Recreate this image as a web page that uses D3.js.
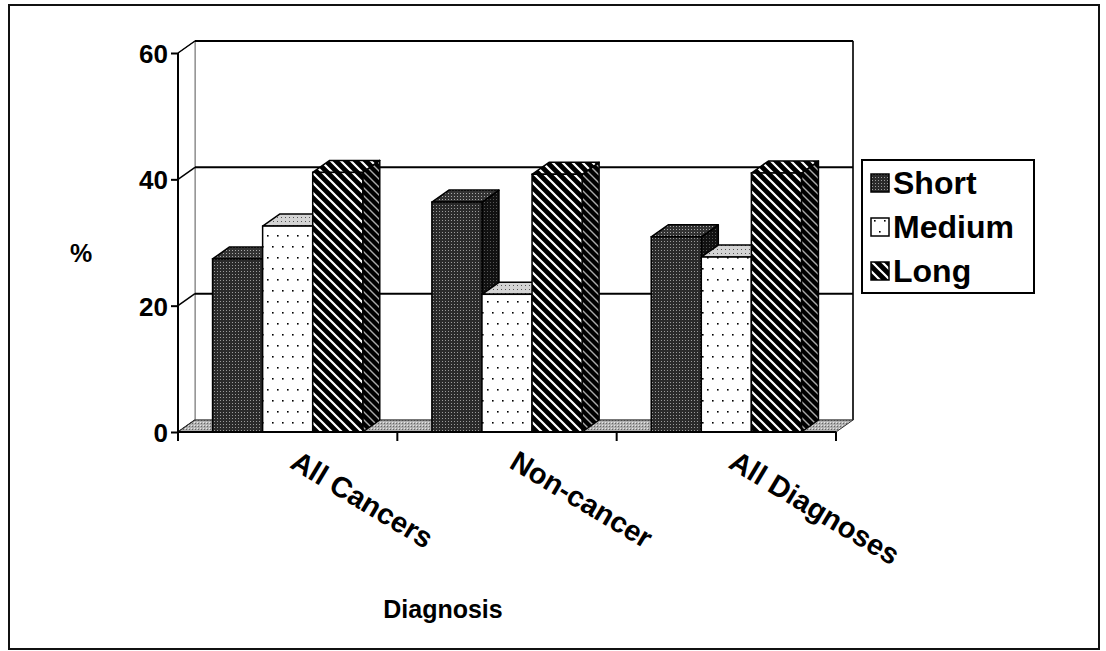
<!DOCTYPE html>
<html>
<head>
<meta charset="utf-8">
<script src="https://cdn.jsdelivr.net/npm/d3@7"></script>
<style>
	body { margin: 0; background: #fff; }
	text { font-family: Arial, "Liberation Sans", sans-serif; font-weight: bold; fill: #000; }
</style>
</head>
<body>
<div id="chart-area"></div>
<script>

// data
var categories = ['All Cancers', 'Non-cancer', 'All Diagnoses'];
var seriesNames = ['Short', 'Medium', 'Long'];
var shortValues = [27.4, 36.4, 30.9];
var mediumValues = [32.6, 21.8, 27.7];
var longValues = [41.1, 40.8, 41.0];
var yTicks = [0, 20, 40, 60];

var seriesValues = { Short: shortValues, Medium: mediumValues, Long: longValues };

function $translate(left, top) {
	return 'translate(' + (left || 0) + ', ' + (top || 0) + ')';
}

var W = 1106, H = 651;

// front plane of the 3d box
var plot = { left: 178, right: 836, top: 53, bottom: 432 };
// depth offset of the back wall
var depth = { dx: 17, dy: -12 };

var svg = d3.select('#chart-area')
	.append('svg')
	.attr('width', W)
	.attr('height', H);

var defs = svg.append('defs');

function pattern(id, w, h) {
	return defs.append('pattern')
		.attr('id', id)
		.attr('patternUnits', 'userSpaceOnUse')
		.attr('width', w)
		.attr('height', h);
}

// short: dark halftone
var p = pattern('p-short', 3, 3);
p.append('rect').attr('width', 3).attr('height', 3).attr('fill', '#2a2a2a');
p.append('rect').attr('x', 1).attr('y', 1).attr('width', 1).attr('height', 1).attr('fill', '#9a9a9a');

p = pattern('p-short-side', 3, 3);
p.append('rect').attr('width', 3).attr('height', 3).attr('fill', '#111');
p.append('rect').attr('x', 1).attr('y', 1).attr('width', 1).attr('height', 1).attr('fill', '#555');

p = pattern('p-short-top', 3, 3);
p.append('rect').attr('width', 3).attr('height', 3).attr('fill', '#333');
p.append('rect').attr('x', 1).attr('y', 1).attr('width', 1).attr('height', 1).attr('fill', '#aaa');

// medium: sparse dots on white
p = pattern('p-medium', 10, 22);
p.append('rect').attr('width', 10).attr('height', 22).attr('fill', '#fff');
p.append('rect').attr('x', 2).attr('y', 4).attr('width', 1.6).attr('height', 1.6).attr('fill', '#000');
p.append('rect').attr('x', 7).attr('y', 15).attr('width', 1.6).attr('height', 1.6).attr('fill', '#000');

p = pattern('p-medium-top', 4, 4);
p.append('rect').attr('width', 4).attr('height', 4).attr('fill', '#d4d4d4');
p.append('rect').attr('x', 1).attr('y', 1).attr('width', 1).attr('height', 1).attr('fill', '#555');

// long: white diagonal stripes on black
p = pattern('p-long', 10, 10);
p.append('rect').attr('width', 10).attr('height', 10).attr('fill', '#000');
p.append('path').attr('d', 'M0,0L10,10M-2,8L2,12M8,-2L12,2').attr('stroke', '#fff').attr('stroke-width', 2.2);

p = pattern('p-long-side', 8, 8);
p.append('rect').attr('width', 8).attr('height', 8).attr('fill', '#000');
p.append('path').attr('d', 'M0,0L8,8M-2,6L2,10M6,-2L10,2').attr('stroke', '#aaa').attr('stroke-width', 1.4);

// floor: grey dither
p = pattern('p-floor', 3, 3);
p.append('rect').attr('width', 3).attr('height', 3).attr('fill', '#b0b0b0');
p.append('rect').attr('width', 1).attr('height', 1).attr('fill', '#666');
p.append('rect').attr('x', 2).attr('y', 2).attr('width', 1).attr('height', 1).attr('fill', '#e6e6e6');

var fills = {
	Short: { front: 'url(#p-short)', side: 'url(#p-short-side)', top: 'url(#p-short-top)' },
	Medium: { front: 'url(#p-medium)', side: 'url(#p-medium-top)', top: 'url(#p-medium-top)' },
	Long: { front: 'url(#p-long)', side: 'url(#p-long-side)', top: 'url(#p-long)' }
};

// outer frame
svg.append('rect')
	.attr('x', 9).attr('y', 5)
	.attr('width', 1090).attr('height', 644)
	.attr('fill', 'none')
	.attr('stroke', '#111')
	.attr('stroke-width', 2);

// scales
var y = d3.scaleLinear().domain([0, 60]).range([plot.bottom, plot.top]);

var x0 = d3.scaleBand()
	.domain(categories)
	.range([plot.left, plot.right])
	.paddingInner(0)
	.paddingOuter(0);

var x1 = d3.scaleBand()
	.domain(seriesNames)
	.range([0, x0.bandwidth()])
	.paddingInner(0)
	.paddingOuter(0.69);

function poly(points) {
	return 'M' + points.map(pt => pt[0] + ',' + pt[1]).join('L') + 'Z';
}

var g = svg.append('g');

// back wall
g.append('rect')
	.attr('x', plot.left + depth.dx)
	.attr('y', plot.top + depth.dy)
	.attr('width', plot.right - plot.left)
	.attr('height', plot.bottom - plot.top)
	.attr('fill', '#fff')
	.attr('stroke', '#777')
	.attr('stroke-width', 1);

// side wall
g.append('path')
	.attr('d', poly([
		[plot.left, plot.bottom], [plot.left, plot.top],
		[plot.left + depth.dx, plot.top + depth.dy], [plot.left + depth.dx, plot.bottom + depth.dy]
	]))
	.attr('fill', '#fff')
	.attr('stroke', '#777')
	.attr('stroke-width', 1);

// gridlines on back wall + side wall
yTicks.forEach(t => {
	var yy = y(t);
	if (t > 0) {
		g.append('line')
			.attr('x1', plot.left + depth.dx).attr('x2', plot.right + depth.dx)
			.attr('y1', yy + depth.dy).attr('y2', yy + depth.dy)
			.attr('stroke', '#000').attr('stroke-width', 2);
	}
	g.append('line')
		.attr('x1', plot.left).attr('x2', plot.left + depth.dx)
		.attr('y1', yy).attr('y2', yy + depth.dy)
		.attr('stroke', '#000').attr('stroke-width', 1.5);
});

// right edge of back wall
g.append('line')
	.attr('x1', plot.right + depth.dx).attr('x2', plot.right + depth.dx)
	.attr('y1', plot.top + depth.dy).attr('y2', plot.bottom + depth.dy)
	.attr('stroke', '#000').attr('stroke-width', 1.5);

// floor
g.append('path')
	.attr('d', poly([
		[plot.left, plot.bottom], [plot.right, plot.bottom],
		[plot.right + depth.dx, plot.bottom + depth.dy], [plot.left + depth.dx, plot.bottom + depth.dy]
	]))
	.attr('fill', 'url(#p-floor)')
	.attr('stroke', '#333')
	.attr('stroke-width', 1);

// bars, left to right so later fronts cover earlier sides
var bars = [];
categories.forEach((c, i) => {
	seriesNames.forEach(s => {
		bars.push({ category: c, series: s, value: seriesValues[s][i] });
	});
});

var barG = g.selectAll('g.bar')
	.data(bars)
	.enter()
	.append('g')
	.attr('class', 'bar');

barG.each(function(d) {
	var sel = d3.select(this);
	var x = x0(d.category) + x1(d.series);
	var w = x1.bandwidth();
	var top = y(d.value);
	var bottom = y(0);

	// side
	sel.append('path')
		.attr('d', poly([
			[x + w, bottom], [x + w, top],
			[x + w + depth.dx, top + depth.dy], [x + w + depth.dx, bottom + depth.dy]
		]))
		.attr('fill', fills[d.series].side)
		.attr('stroke', '#000').attr('stroke-width', 1.5)
		.attr('stroke-linejoin', 'round');

	// top
	sel.append('path')
		.attr('d', poly([
			[x, top], [x + w, top],
			[x + w + depth.dx, top + depth.dy], [x + depth.dx, top + depth.dy]
		]))
		.attr('fill', fills[d.series].top)
		.attr('stroke', '#000').attr('stroke-width', 1.5)
		.attr('stroke-linejoin', 'round');

	// front
	sel.append('rect')
		.attr('x', x).attr('y', top)
		.attr('width', w).attr('height', bottom - top)
		.attr('fill', fills[d.series].front)
		.attr('stroke', '#000').attr('stroke-width', 1.5);
});

// front axes
var yAxis = d3.axisLeft(y).tickValues(yTicks).tickSize(7).tickPadding(3);

var yAxisG = svg.append('g')
	.attr('transform', $translate(plot.left, 0))
	.call(yAxis);

yAxisG.select('.domain').remove();
yAxisG.selectAll('line').attr('stroke', '#000').attr('stroke-width', 2);
yAxisG.selectAll('text')
	.attr('font-size', '26px')
	.attr('dy', '0.36em')
	.style('font-family', 'Arial, "Liberation Sans", sans-serif')
	.style('font-weight', 'bold');

svg.append('line')
	.attr('x1', plot.left).attr('x2', plot.left)
	.attr('y1', plot.top).attr('y2', plot.bottom + 1)
	.attr('stroke', '#000').attr('stroke-width', 2);

svg.append('line')
	.attr('x1', plot.left - 1).attr('x2', plot.right)
	.attr('y1', plot.bottom).attr('y2', plot.bottom)
	.attr('stroke', '#000').attr('stroke-width', 2);

// x ticks at category boundaries
var boundaries = categories.map(c => x0(c)).concat([plot.right]);
svg.selectAll('line.xtick')
	.data(boundaries)
	.enter()
	.append('line')
	.attr('class', 'xtick')
	.attr('x1', d => d).attr('x2', d => d)
	.attr('y1', plot.bottom).attr('y2', plot.bottom + 9)
	.attr('stroke', '#000').attr('stroke-width', 2);

// category labels, rotated
svg.selectAll('text.cat')
	.data(categories)
	.enter()
	.append('text')
	.attr('class', 'cat')
	.attr('transform', d => $translate(x0(d) + x0.bandwidth() / 2 + 1, 467) + ' rotate(31)')
	.attr('font-size', '29px')
	.text(d => d);

// axis titles
svg.append('text')
	.attr('x', 81)
	.attr('y', 262)
	.attr('text-anchor', 'middle')
	.attr('font-size', '25px')
	.text('%');

svg.append('text')
	.attr('x', 443)
	.attr('y', 618)
	.attr('text-anchor', 'middle')
	.attr('font-size', '25px')
	.text('Diagnosis');

// legend
var legend = svg.append('g').attr('transform', $translate(862, 160));

legend.append('rect')
	.attr('width', 172)
	.attr('height', 133)
	.attr('fill', '#fff')
	.attr('stroke', '#000')
	.attr('stroke-width', 2);

var item = legend.selectAll('g.item')
	.data(seriesNames)
	.enter()
	.append('g')
	.attr('class', 'item')
	.attr('transform', (d, i) => $translate(0, 34 + i * 44));

item.append('rect')
	.attr('x', 9)
	.attr('y', -20)
	.attr('width', 18)
	.attr('height', 18)
	.attr('fill', d => fills[d].front)
	.attr('stroke', '#000')
	.attr('stroke-width', 1.5);

item.append('text')
	.attr('x', 31)
	.attr('y', 0)
	.attr('font-size', '32px')
	.text(d => d);

</script>
</body>
</html>
